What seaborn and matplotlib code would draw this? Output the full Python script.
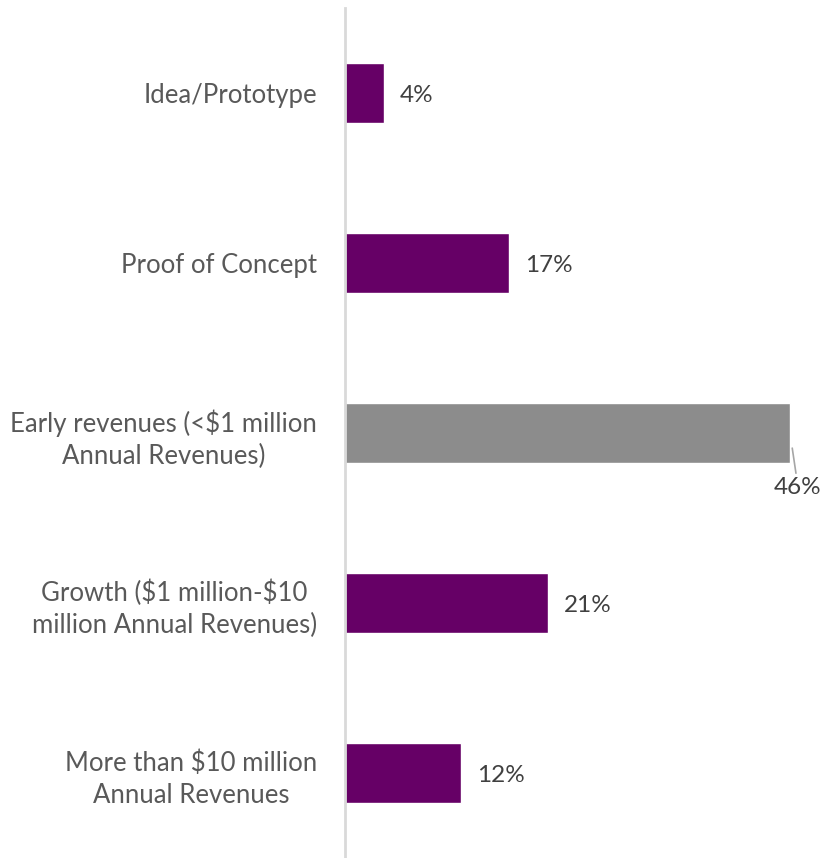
import matplotlib
matplotlib.use("Agg")
import matplotlib.pyplot as plt
import seaborn as sns
import pandas as pd

categories = [
    "Idea/Prototype",
    "Proof of Concept",
    "Early revenues (<\\$1 million\nAnnual Revenues)",
    "Growth (\\$1 million-\\$10\nmillion Annual Revenues)",
    "More than \\$10 million\nAnnual Revenues",
]
values = [4, 17, 46, 21, 12]
value_labels = ["4%", "17%", "46%", "21%", "12%"]
highlight = [False, False, True, False, False]

PURPLE = "#660066"
GRAY = "#8c8c8c"
colors = [GRAY if h else PURPLE for h in highlight]

sns.set_theme(style="white")
plt.rcParams["font.family"] = ["Lato", "DejaVu Sans"]

df = pd.DataFrame({"stage": categories, "pct": values})

fig = plt.figure(figsize=(8.27, 8.58), dpi=100)
ax = fig.add_axes([345 / 827, 0.0, 482 / 827, 850 / 858])

sns.barplot(data=df, y="stage", x="pct", hue="stage", palette=colors,
            orient="h", width=0.353, legend=False, ax=ax, saturation=1)

ax.set_xlim(0, 482 / (445 / 46))
ax.set_ylim(4.5, -0.5)
ax.set_xlabel("")
ax.set_ylabel("")
ax.set_xticks([])
for s in ["top", "right", "bottom"]:
    ax.spines[s].set_visible(False)
ax.spines["left"].set_color("#d9d9d9")
ax.spines["left"].set_linewidth(2)
ax.tick_params(axis="y", length=0, pad=20, labelsize=18.5, labelcolor="#595959")
for t in ax.get_yticklabels():
    t.set_multialignment("center")
    t.set_linespacing(1.35)

for i, (v, lab, h) in enumerate(zip(values, value_labels, highlight)):
    if h:
        ax.annotate(lab, xy=(v, i), xytext=(8, -54), textcoords="offset pixels",
                    ha="center", va="center", fontsize=17.5, color="#404040",
                    arrowprops=dict(arrowstyle="-", color="#a6a6a6", lw=1.2,
                                    shrinkA=0, shrinkB=11))
    else:
        ax.annotate(lab, xy=(v, i), xytext=(16, -3), textcoords="offset pixels",
                    ha="left", va="center", fontsize=17.5, color="#404040")

fig.savefig("out.png", dpi=100)
